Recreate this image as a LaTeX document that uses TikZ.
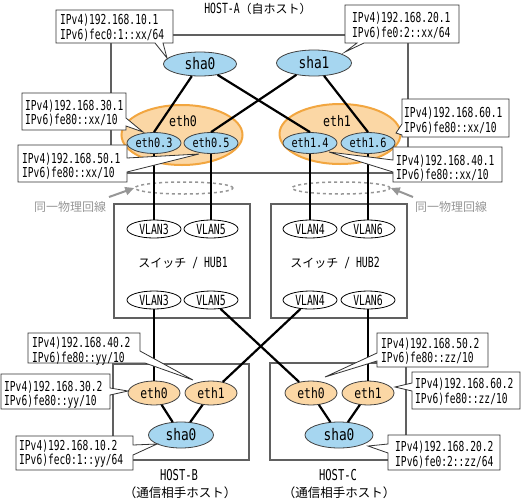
\documentclass[tikz,border=0pt]{standalone}
\usepackage{fontspec}
\newfontfamily\ipf[FakeStretch=0.70]{DejaVu Sans Mono}
\newfontfamily\lbf[FakeStretch=0.80]{DejaVu Sans Mono}
\newfontfamily\jp{Noto Sans CJK JP}
\usetikzlibrary{shapes.geometric,arrows.meta}
\definecolor{shablue}{RGB}{166,214,240}
\definecolor{ethor}{RGB}{251,215,165}
\definecolor{orbd}{RGB}{242,166,64}
\definecolor{boxgray}{RGB}{96,96,96}
\definecolor{dashgray}{RGB}{150,150,150}
\definecolor{arrgray}{RGB}{150,150,150}
\begin{document}
\begin{tikzpicture}[x=1pt,y=-1pt,
  hostbox/.style={draw=boxgray,line width=1.2pt},
  link/.style={draw=black,line width=2.2pt},
  ell/.style={ellipse,inner sep=0pt},
  shanode/.style={ell,draw=black!75,fill=shablue,line width=0.8pt,font=\lbf\fontsize{16}{16}\selectfont},
  subif/.style={ell,draw=black!75,fill=shablue,line width=0.8pt,minimum width=54pt,minimum height=21pt,font=\lbf\fontsize{12.8}{13}\selectfont},
  orell/.style={ell,draw=orbd,fill=ethor,line width=2pt,minimum width=121pt,minimum height=60pt},
  peth/.style={ell,draw=black!75,fill=ethor,line width=0.8pt,minimum width=52pt,minimum height=24pt,font=\lbf\fontsize{14.2}{15}\selectfont},
  vlan/.style={ell,draw=black,fill=white,line width=0.8pt,minimum width=54pt,minimum height=18pt,font=\ipf\fontsize{14}{14}\selectfont},
  dashell/.style={ell,draw=dashgray,line width=1.5pt,dash pattern=on 3pt off 3pt,minimum width=98pt,minimum height=12pt},
  garrow/.style={draw=arrgray,line width=2pt,-{Triangle[length=9pt,width=8pt]}},
  callout/.style={draw=black!80,fill=white,line width=0.8pt},
  iptext/.style={anchor=west,inner sep=0pt,align=left,font=\ipf\fontsize{13.7}{14.5}\selectfont},
  lbl/.style={inner sep=0pt,font=\lbf\fontsize{14.5}{15}\selectfont},
  ttl/.style={inner sep=0pt,font=\ipf\fontsize{14}{15}\selectfont},
  jtx/.style={inner sep=0pt,font=\jp\fontsize{12}{14}\selectfont}
]
\useasboundingbox (0,0) rectangle (521,501);

% host and hub boxes
\draw[hostbox] (111,35) rectangle (408,173);
\draw[hostbox] (114,204) rectangle (250,318);
\draw[hostbox] (271,204) rectangle (407,318);
\draw[hostbox] (113,364) rectangle (249,460);
\draw[hostbox] (270,363) rectangle (406,460);

% titles
\node[ttl] (hosta) at (258,9) {HOST-A{\jp\fontsize{12}{14}\selectfont （自ホスト）}};
\node[ttl,font=\ipf\fontsize{15}{15}\selectfont] (hostb) at (179,475) {HOST-B};
\node[jtx,font=\jp\fontsize{12.5}{14}\selectfont] (hostbj) at (180,493) {（通信相手ホスト）};
\node[ttl,font=\ipf\fontsize{15}{15}\selectfont] (hostc) at (338,475) {HOST-C};
\node[jtx,font=\jp\fontsize{12.5}{14}\selectfont] (hostcj) at (339,493) {（通信相手ホスト）};
\node[ttl] (hub1) at (183,263) {{\jp\fontsize{12}{14}\selectfont スイッチ}\ / HUB1};
\node[ttl] (hub2) at (335,263) {{\jp\fontsize{12}{14}\selectfont スイッチ}\ / HUB2};

% HOST-A
\node[orell] (aeth0) at (182,135) {};
\node[orell] (aeth1) at (340,134) {};
\node[lbl] (aeth0l) at (183,121) {eth0};
\node[lbl] (aeth1l) at (337,121) {eth1};
\node[shanode,minimum width=73pt,minimum height=24pt] (asha0) at (200,64) {sha0};
\node[shanode,minimum width=75pt,minimum height=26pt] (asha1) at (314,63) {sha1};
\node[subif] (ae03) at (154,143) {eth0.3};
\node[subif] (ae05) at (211,143) {eth0.5};
\node[subif] (ae14) at (310,143) {eth1.4};
\node[subif] (ae16) at (368,143) {eth1.6};

% dashed "same line" marks
\node[dashell] (dL) at (184,188) {};
\node[dashell] (dR) at (341,188) {};
\node[jtx,text=arrgray] (sameL) at (70,207) {同一物理回線};
\node[jtx,text=arrgray] (sameR) at (451,207) {同一物理回線};
\coordinate (arrLs) at (109,197);
\coordinate (arrRs) at (413,197);
\draw[garrow] (arrLs) -- (dL.west);
\draw[garrow] (arrRs) -- (dR.east);

% VLANs
\node[vlan] (tv3) at (154,229) {VLAN3};
\node[vlan] (tv5) at (211,229) {VLAN5};
\node[vlan] (tv4) at (310,229) {VLAN4};
\node[vlan] (tv6) at (368,229) {VLAN6};
\node[vlan] (bv3) at (154,300) {VLAN3};
\node[vlan] (bv5) at (211,300) {VLAN5};
\node[vlan] (bv4) at (310,300) {VLAN4};
\node[vlan] (bv6) at (368,300) {VLAN6};

% HOST-B and HOST-C
\node[peth] (be0) at (154,393) {eth0};
\node[peth] (be1) at (211,393) {eth1};
\node[shanode,minimum width=65pt,minimum height=26pt] (bsha) at (181,435) {sha0};
\node[peth] (ce0) at (311,393) {eth0};
\node[peth] (ce1) at (368,393) {eth1};
\node[shanode,minimum width=68pt,minimum height=26pt] (csha) at (339,435) {sha0};

% links
\draw[link] (asha0) -- (ae03.north);
\draw[link] (asha0) -- (ae14.north);
\draw[link] (asha1) -- (ae05.north);
\draw[link] (asha1) -- (ae16.north);
\draw[link] (ae03.south) -- (tv3.north);
\draw[link] (ae05.south) -- (tv5.north);
\draw[link] (ae14.south) -- (tv4.north);
\draw[link] (ae16.south) -- (tv6.north);
\draw[link] (bv3.south) -- (be0.north);
\draw[link] (bv5) -- (ce0);
\draw[link] (bv4) -- (be1);
\draw[link] (bv6.south) -- (ce1.north);
\draw[link] (be0) -- (bsha);
\draw[link] (be1) -- (bsha);
\draw[link] (ce0) -- (csha);
\draw[link] (ce1) -- (csha);

% callouts
\draw[callout] (56,10) -- (173,10) -- (173,43) -- (163,43) -- (167,58) -- (155,43) -- (56,43) -- cycle;
\node[iptext] (a1t) at (60,27.5) {IPv4)192.168.10.1\\IPv6)fec0:1::xx/64};
\draw[callout] (345,5) -- (459,5) -- (459,43) -- (364,43) -- (345,52) -- (357,43) -- (345,43) -- cycle;
\node[iptext] (a2t) at (352,25.5) {IPv4)192.168.20.1\\IPv6)fe0:2::xx/64};
\draw[callout] (22,93) -- (126,93) -- (126,118) -- (143,132) -- (126,126) -- (126,130) -- (22,130) -- cycle;
\node[iptext] (a3t) at (25,113) {IPv4)192.168.30.1\\IPv6)fe80::xx/10};
\draw[callout] (18,145) -- (127,145) -- (127,158) -- (199,154) -- (127,172) -- (127,182) -- (18,182) -- cycle;
\node[iptext] (a4t) at (22,166) {IPv4)192.168.50.1\\IPv6)fe80::xx/10};
\draw[callout] (402,99) -- (509,99) -- (509,137) -- (402,137) -- (402,135) -- (396,133) -- (402,124) -- cycle;
\node[iptext] (a5t) at (404,120.5) {IPv4)192.168.60.1\\IPv6)fe80::xx/10};
\draw[callout] (393,147) -- (502,147) -- (502,182) -- (393,182) -- (393,172) -- (329,152) -- (393,160) -- cycle;
\node[iptext] (a6t) at (396,168) {IPv4)192.168.40.1\\IPv6)fe80::xx/10};
\draw[callout] (28,333) -- (140,333) -- (140,351) -- (193,380) -- (145,363) -- (28,363) -- cycle;
\node[iptext] (b1t) at (32,351) {IPv4)192.168.40.2\\IPv6)fe80::yy/10};
\draw[callout] (1,374) -- (110,374) -- (110,388) -- (128,391) -- (110,395) -- (110,409) -- (1,409) -- cycle;
\node[iptext] (b2t) at (4,394.5) {IPv4)192.168.30.2\\IPv6)fe80::yy/10};
\draw[callout] (16,436) -- (133,436) -- (133,445) -- (157,444) -- (133,455) -- (133,470) -- (16,470) -- cycle;
\node[iptext] (b3t) at (19,453.5) {IPv4)192.168.10.2\\IPv6)fec0:1::yy/64};
\draw[callout] (377,333) -- (488,333) -- (488,367) -- (377,367) -- (377,361) -- (325,377) -- (377,353) -- cycle;
\node[iptext] (c1t) at (381,351) {IPv4)192.168.50.2\\IPv6)fe80::zz/10};
\draw[callout] (412,372) -- (520,372) -- (520,409) -- (412,409) -- (412,391) -- (395,387) -- (412,383) -- cycle;
\node[iptext] (c2t) at (415,391.5) {IPv4)192.168.60.2\\IPv6)fe80::zz/10};
\draw[callout] (388,435) -- (500,435) -- (500,470) -- (388,470) -- (388,453) -- (368,446) -- (388,444) -- cycle;
\node[iptext] (c3t) at (395,454.5) {IPv4)192.168.20.2\\IPv6)fe0:2::zz/64};
\end{tikzpicture}
\end{document}
